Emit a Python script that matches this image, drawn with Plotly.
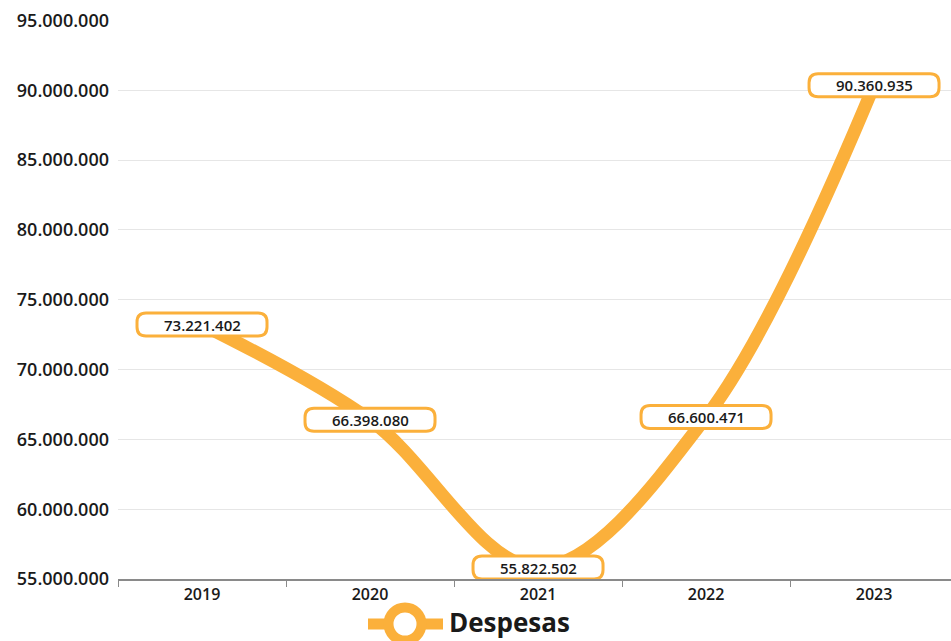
import plotly.graph_objects as go

years = ["2019", "2020", "2021", "2022", "2023"]
despesas = [73221402, 66398080, 55822502, 66600471, 90360935]
series_name = "Despesas"
y_ticks = [55000000, 60000000, 65000000, 70000000, 75000000, 80000000, 85000000, 90000000, 95000000]

ORANGE = "#FBB03B"
TEXT = "#1a1a1a"
FONT = "Open Sans"

W, H = 951, 641
ML, MR, MT, MB = 118, 0, 20, 62
PW, PH = W - ML - MR, H - MT - MB

def fmt(v):
    return f"{v:,}".replace(",", ".")

def px_x(p):  # window pixel -> paper fraction
    return (p - ML) / PW

def px_y(p):
    return (H - MB - p) / PH

fig = go.Figure()
fig.add_trace(go.Scatter(
    x=years, y=despesas, name=series_name,
    mode="lines+markers",
    line=dict(color=ORANGE, width=13, shape="spline", smoothing=1.0),
    marker=dict(size=14, color="white", line=dict(color=ORANGE, width=4)),
    hoverinfo="x+y", showlegend=False,
))

# rounded label boxes (pixel-sized, anchored at the data points)
w, h, r = 130, 23, 9
hw, hh = w / 2, h / 2
path = (f"M {-hw + r},{-hh} L {hw - r},{-hh} Q {hw},{-hh} {hw},{-hh + r} "
        f"L {hw},{hh - r} Q {hw},{hh} {hw - r},{hh} L {-hw + r},{hh} "
        f"Q {-hw},{hh} {-hw},{hh - r} L {-hw},{-hh + r} Q {-hw},{-hh} {-hw + r},{-hh} Z")
shapes = []
annotations = []
for i, (xv, yv) in enumerate(zip(years, despesas)):
    shapes.append(dict(type="path", xref="x", yref="y", xsizemode="pixel", ysizemode="pixel",
                       xanchor=i, yanchor=yv, path=path,
                       fillcolor="white", line=dict(color=ORANGE, width=3), layer="above"))
    annotations.append(dict(x=i, y=yv, xref="x", yref="y", text=fmt(yv), showarrow=False,
                            font=dict(family=FONT, size=15, color=TEXT, weight=600)))

# legend (drawn): line + open circle + series name
lg_cx, lg_cy = 405, 624
shapes.append(dict(type="line", xref="paper", yref="paper", xsizemode="pixel", ysizemode="pixel",
                   xanchor=px_x(lg_cx), yanchor=px_y(lg_cy), x0=-37, x1=38, y0=0, y1=0,
                   line=dict(color=ORANGE, width=11), layer="above"))
shapes.append(dict(type="circle", xref="paper", yref="paper", xsizemode="pixel", ysizemode="pixel",
                   xanchor=px_x(lg_cx), yanchor=px_y(lg_cy), x0=-16.5, x1=16.5, y0=-16.5, y1=16.5,
                   fillcolor="white", line=dict(color=ORANGE, width=10), layer="above"))
annotations.append(dict(xref="paper", yref="paper", x=px_x(447), y=px_y(622),
                        xanchor="left", yanchor="middle", text=series_name, showarrow=False,
                        font=dict(family=FONT, size=26, color=TEXT, weight=700)))

fig.update_layout(
    width=W, height=H,
    margin=dict(l=ML, r=MR, t=MT, b=MB),
    paper_bgcolor="white", plot_bgcolor="white",
    separators=",.",
    font=dict(family=FONT, color=TEXT),
    shapes=shapes,
    annotations=annotations,
    showlegend=False,
    xaxis=dict(type="category", range=[-0.5, 4.458], showgrid=False,
               showline=True, linecolor="#8a8a8a", linewidth=2,
               ticks="outside", tickson="boundaries", ticklen=6, tickcolor="#8a8a8a",
               tickfont=dict(family=FONT, size=16, color=TEXT, weight=600)),
    yaxis=dict(range=[55000000, 95040000], tickvals=y_ticks, tickformat=",d",
               showgrid=True, gridcolor="#e6e6e6", gridwidth=1, zeroline=False,
               showline=False, ticks="", ticklabelstandoff=8, ticklabeloverflow="allow",
               tickfont=dict(family=FONT, size=18, color=TEXT, weight=600)),
)

fig.write_html("out.html", config={"displayModeBar": False},
               post_script="document.body.style.margin='0';document.body.style.overflow='hidden';")
